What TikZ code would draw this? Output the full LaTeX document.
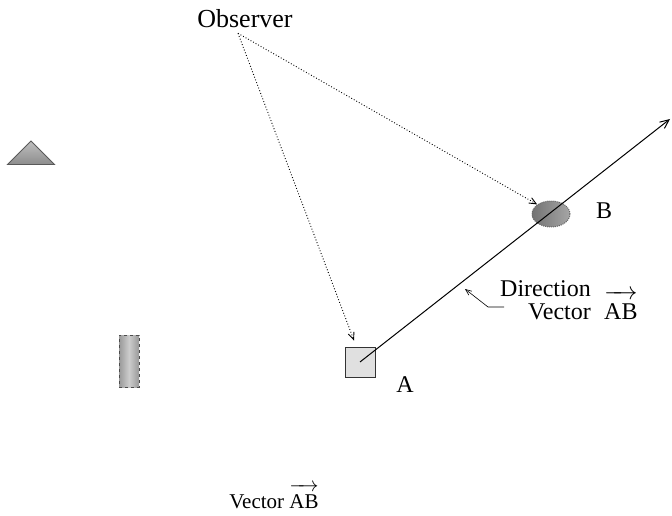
\documentclass[tikz,border=0pt]{standalone}
\usepackage{fontspec}
\setmainfont{Liberation Serif}
\usetikzlibrary{arrows.meta,shapes.geometric}
\tikzset{
  lbl/.style={font=\fontsize{24}{24}\selectfont, inner sep=1pt},
  dotline/.style={dotted, line width=0.9pt, -{Straight Barb[length=7pt,width=6pt]}},
}
\newcommand{\vecAB}[1]{\ensuremath{\overrightarrow{\mbox{AB}\rule{0pt}{#1}}}}
\begin{document}
\begin{tikzpicture}[x=1pt,y=-1pt]
\useasboundingbox (0,0) rectangle (672,516);
% objects
\node[isosceles triangle, isosceles triangle apex angle=90, shape border rotate=90,
      minimum width=47pt, minimum height=0pt, inner sep=0pt, anchor=south,
      draw=black!65, line width=0.9pt, top color=black!25, bottom color=black!45] (tri) at (31,165) {};
\node[draw=black!70, dashed, line width=1pt, left color=black!40, right color=black!40, middle color=black!20, minimum width=20pt, minimum height=52pt, inner sep=0pt] (rect) at (129,361) {};
\node[draw=black!80, line width=0.9pt, fill=black!12, minimum width=30pt, minimum height=30pt, inner sep=0pt] (sq) at (360,362) {};
\node[ellipse, draw=black!60, densely dotted, line width=1pt, left color=black!55, right color=black!35, minimum width=38pt, minimum height=26pt, inner sep=0pt] (ell) at (551,214) {};
\coordinate (tip) at (670,119);
\draw[line width=1pt, -{Straight Barb[length=9pt,width=8pt]}] (sq.center) -- (tip);
% labels
\node[lbl, font=\fontsize{26}{26}\selectfont] (obs) at (245,19) {Observer};
\node[lbl] (labA) at (405,385) {A};
\node[lbl] (labB) at (604,211) {B};
\node[lbl, align=right, anchor=east] (dir) at (592,300) {Direction\\[-1pt] Vector};
\node[lbl, anchor=base west] (ab) at ([xshift=11pt]dir.base east) {\vecAB{21pt}};
\node[lbl, font=\fontsize{21}{21}\selectfont] (vec) at (274,496) {Vector \vecAB{18pt}};
% connectors
\draw[dotline] (obs.south) ++(-7,4) coordinate (o1) -- (ell.north west);
\draw[dotline] (o1) -- ([xshift=-6pt,yshift=6pt]sq.north);
\coordinate (p1) at (504,307);
\coordinate (p2) at (488,307);
\coordinate (p3) at (465,289);
\draw[line width=0.6pt, -{Straight Barb[length=6pt,width=5pt]}] (p1) -- (p2) -- (p3);
\end{tikzpicture}
\end{document}
